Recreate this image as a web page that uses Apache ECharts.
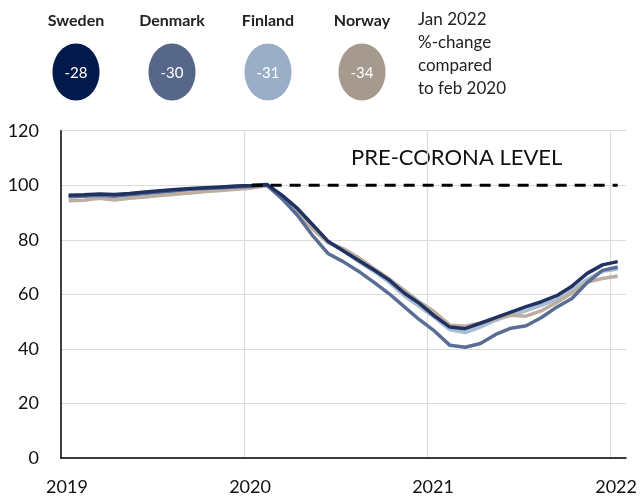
<!DOCTYPE html>
<html>
<head>
<meta charset="utf-8">
<script src="https://cdn.jsdelivr.net/npm/echarts@6/dist/echarts.min.js"></script>
<style>
  html, body { margin: 0; padding: 0; background: #fff; }
  #chart { width: 644px; height: 497px; }
</style>
</head>
<body>
<div id="chart"></div>
<script>
// monthly index, feb 2020 = 100
const months = [
  "2019-01", "2019-02", "2019-03", "2019-04", "2019-05", "2019-06", "2019-07", "2019-08", "2019-09", "2019-10", "2019-11", "2019-12",
  "2020-01", "2020-02", "2020-03", "2020-04", "2020-05", "2020-06", "2020-07", "2020-08", "2020-09", "2020-10", "2020-11", "2020-12",
  "2021-01", "2021-02", "2021-03", "2021-04", "2021-05", "2021-06", "2021-07", "2021-08", "2021-09", "2021-10", "2021-11", "2021-12",
  "2022-01"
];
const sweden = [96.3, 96.5, 96.8, 96.6, 97.0, 97.5, 98.0, 98.4, 98.8, 99.1, 99.4, 99.7,
  99.9, 100.3, 96.3, 91.5, 85.5, 79.5, 76.0, 72.5, 69.0, 65.3, 60.5, 56.7,
  52.0, 48.0, 47.4, 49.4, 51.5, 53.5, 55.5, 57.3, 59.5, 63.0, 67.7, 70.8, 72.0];
const denmark = [95.8, 96.0, 96.3, 96.0, 96.5, 97.0, 97.5, 98.0, 98.5, 98.8, 99.1, 99.4,
  99.6, 100.0, 95.0, 89.0, 81.5, 75.0, 72.0, 68.5, 64.5, 60.3, 55.5, 50.7,
  46.5, 41.3, 40.6, 42.0, 45.3, 47.6, 48.5, 51.5, 55.3, 58.5, 64.3, 68.8, 70.0];
const finland = [96.0, 96.2, 96.5, 96.3, 96.8, 97.3, 97.8, 98.2, 98.6, 99.0, 99.3, 99.6,
  99.8, 100.2, 95.8, 90.5, 84.0, 79.0, 76.0, 72.0, 68.5, 64.5, 59.5, 55.5,
  51.5, 47.0, 46.0, 48.0, 50.5, 52.5, 54.0, 56.0, 58.0, 61.5, 65.5, 68.5, 69.3];
const norway = [94.3, 94.5, 95.2, 94.6, 95.2, 95.7, 96.2, 96.7, 97.2, 97.7, 98.1, 98.5,
  99.0, 100.0, 95.5, 90.0, 84.0, 79.0, 76.8, 73.5, 69.5, 65.8, 61.5, 57.2,
  53.5, 48.7, 48.3, 49.5, 51.0, 52.3, 52.0, 54.0, 57.0, 60.5, 64.5, 65.8, 66.7];

const countries = ["Sweden", "Denmark", "Finland", "Norway"];
const changeJan2022 = [-28, -30, -31, -34];
const preCoronaLevel = 100;
const preCoronaFrom = "2020-01";
const preCoronaTo = "2022-01";

const circleColors = ["#021a4b", "#566789", "#9aaec7", "#a69a8f"];
const lineColors = ["#1f3262", "#5a6d94", "#a9bdd5", "#bdae9f"];

// month string -> position on a year axis (mid-month)
function toX(m) {
  const [y, mo] = m.split("-").map(Number);
  return y + (mo - 0.5) / 12;
}

const seriesData = [sweden, denmark, finland, norway];
const drawOrder = [2, 3, 1, 0]; // finland, norway, denmark, sweden on top

const chart = echarts.init(document.getElementById("chart"));

const legendGraphics = [];
const legendX = [76, 172, 268, 362];
countries.forEach((name, i) => {
  legendGraphics.push({
    type: "text",
    x: legendX[i], y: 21,
    style: {
      text: name, fill: "#222", font: "bold 16px Lato",
      align: "center", verticalAlign: "middle"
    }
  });
  legendGraphics.push({
    type: "ellipse",
    shape: { cx: legendX[i], cy: 72, rx: 23.5, ry: 28.5 },
    style: { fill: circleColors[i] }
  });
  legendGraphics.push({
    type: "text",
    x: legendX[i], y: 73,
    style: {
      text: String(changeJan2022[i]), fill: "#fff", font: "15px Lato",
      align: "center", verticalAlign: "middle"
    }
  });
});
legendGraphics.push({
  type: "text",
  x: 418, y: 8,
  style: {
    text: "Jan 2022\n%-change\ncompared\nto feb 2020",
    fill: "#222", font: "17px Lato", lineHeight: 23,
    align: "left", verticalAlign: "top"
  }
});
legendGraphics.push({
  type: "text",
  x: 351, y: 158,
  style: {
    text: "PRE-CORONA LEVEL", fill: "#111", font: "22px Lato",
    align: "left", verticalAlign: "middle"
  }
});

const series = [];
drawOrder.forEach((i, k) => {
  series.push({
    name: countries[i],
    type: "line",
    data: months.map((m, j) => [toX(m), seriesData[i][j]]),
    showSymbol: false,
    lineStyle: { color: lineColors[i], width: 3.5 },
    z: 2 + k
  });
});
series.push({
  name: "Pre-corona level",
  type: "line",
  data: [[toX(preCoronaFrom), preCoronaLevel], [toX(preCoronaTo), preCoronaLevel]],
  showSymbol: false,
  lineStyle: { color: "#000", width: 3, type: [11, 8] },
  z: 10,
  silent: true
});

chart.setOption({
  animation: false,
  textStyle: { fontFamily: "Lato" },
  grid: { left: 61, right: 18, top: 130.7, bottom: 39, containLabel: false },
  xAxis: {
    type: "value",
    min: 2019,
    max: 2022.087,
    interval: 1,
    axisLine: { show: true, onZero: false, lineStyle: { color: "#000", width: 1.5 } },
    axisTick: { show: false },
    axisLabel: {
      fontSize: 18, color: "#111", margin: 20,
      padding: [0, 0, 0, 12],
      showMaxLabel: false,
      formatter: v => (Math.abs(v - Math.round(v)) < 1e-6 ? String(Math.round(v)) : "")
    },
    splitLine: { show: true, showMinLine: false, showMaxLine: false, lineStyle: { color: "#dcdcdc", width: 1.2 } }
  },
  yAxis: {
    type: "value",
    min: 0,
    max: 120,
    interval: 20,
    axisLine: { show: true, lineStyle: { color: "#000", width: 1.5 } },
    axisTick: { show: false },
    axisLabel: { fontSize: 18, color: "#111", margin: 22 },
    splitLine: { lineStyle: { color: "#dcdcdc", width: 1.2 } }
  },
  graphic: legendGraphics,
  series: series
});
</script>
</body>
</html>
